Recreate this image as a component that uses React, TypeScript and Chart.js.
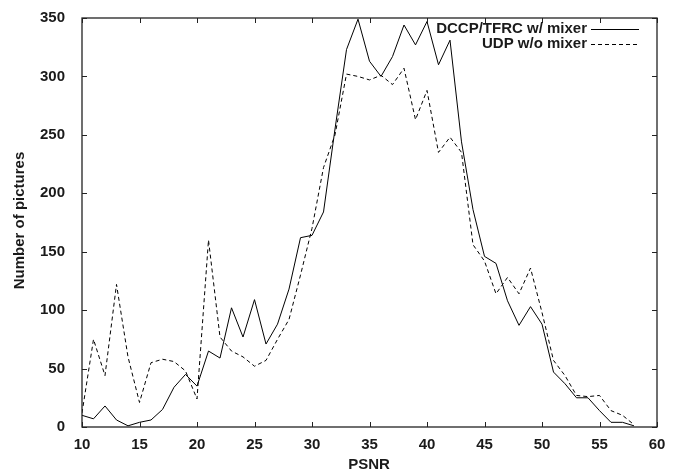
import React, { useEffect, useRef } from "react";
import { Chart, registerables } from "chart.js";

Chart.register(...registerables);

const psnr = [10, 11, 12, 13, 14, 15, 16, 17, 18, 19, 20, 21, 22, 23, 24, 25, 26, 27, 28, 29, 30, 31, 32, 33, 34, 35, 36, 37, 38, 39, 40, 41, 42, 43, 44, 45, 46, 47, 48, 49, 50, 51, 52, 53, 54, 55, 56, 57, 58];

const dccpMixer = [10, 7, 18, 6, 1, 4, 6, 15, 34, 45, 35, 65, 59, 102, 77, 109, 71, 88, 118, 162, 164, 184, 255, 323, 349, 313, 300, 317, 344, 327, 347, 310, 331, 244, 186, 146, 140, 108, 87, 103, 88, 47, 37, 25, 25, 14, 4, 4, 1];

const udpNoMixer = [12, 75, 44, 122, 60, 21, 55, 58, 56, 48, 24, 160, 77, 65, 60, 52, 57, 75, 92, 130, 170, 222, 250, 302, 300, 297, 301, 293, 307, 263, 288, 235, 248, 235, 156, 142, 114, 128, 114, 136, 98, 57, 44, 27, 26, 27, 14, 10, 2];

const seriesLabels = ["DCCP/TFRC w/ mixer", "UDP w/o mixer"];
const xTitle = "PSNR";
const yTitle = "Number of pictures";

const FONT = "'Liberation Sans', Arial, sans-serif";
const TEXT = "#1a1a1a";

const framePlugin = {
  id: "frame",
  afterDraw(chart: any) {
    const { ctx, chartArea } = chart;
    const { left, right, top, bottom } = chartArea;
    const xs = chart.scales.x;
    const ys = chart.scales.y;
    ctx.save();
    ctx.strokeStyle = "#222";
    ctx.lineWidth = 1.3;
    ctx.setLineDash([]);
    ctx.strokeRect(left, top, right - left, bottom - top);
    ctx.lineWidth = 1;
    const tl = 5;
    ctx.beginPath();
    xs.ticks.forEach((t: any) => {
      const px = Math.round(xs.getPixelForValue(t.value)) + 0.5;
      ctx.moveTo(px, bottom);
      ctx.lineTo(px, bottom - tl);
      ctx.moveTo(px, top);
      ctx.lineTo(px, top + tl);
    });
    ys.ticks.forEach((t: any) => {
      const py = Math.round(ys.getPixelForValue(t.value)) + 0.5;
      ctx.moveTo(left, py);
      ctx.lineTo(left + tl, py);
      ctx.moveTo(right, py);
      ctx.lineTo(right - tl, py);
    });
    ctx.stroke();

    // axis titles
    ctx.fillStyle = TEXT;
    ctx.font = `bold 15px ${FONT}`;
    ctx.textAlign = "center";
    ctx.textBaseline = "middle";
    ctx.fillText(xTitle, 369, 464.5);
    ctx.save();
    ctx.translate(20, 220.5);
    ctx.rotate(-Math.PI / 2);
    ctx.fillText(yTitle, 0, 0);
    ctx.restore();

    // legend
    ctx.font = `bold 15px ${FONT}`;
    ctx.textAlign = "right";
    const rows = [29, 43.8];
    chart.data.datasets.forEach((ds: any, i: number) => {
      const y = rows[i];
      ctx.fillStyle = TEXT;
      ctx.fillText(ds.label, 587, y);
      ctx.strokeStyle = ds.borderColor;
      ctx.lineWidth = ds.borderWidth;
      ctx.setLineDash(ds.borderDash || []);
      ctx.beginPath();
      ctx.moveTo(591, Math.round(y) + 0.5);
      ctx.lineTo(639, Math.round(y) + 0.5);
      ctx.stroke();
    });
    ctx.restore();
  },
};

export default function App() {
  const ref = useRef<HTMLCanvasElement | null>(null);

  useEffect(() => {
    document.body.style.margin = "0";
    const canvas = ref.current;
    if (!canvas) return;
    const chart = new Chart(canvas, {
      type: "line",
      data: {
        datasets: [
          {
            label: seriesLabels[0],
            data: psnr.map((x, i) => ({ x, y: dccpMixer[i] })),
            borderColor: "#000",
            borderWidth: 1,
            pointRadius: 0,
            fill: false,
            tension: 0,
          },
          {
            label: seriesLabels[1],
            data: psnr.map((x, i) => ({ x, y: udpNoMixer[i] })),
            borderColor: "#000",
            borderWidth: 1,
            borderDash: [4, 3],
            pointRadius: 0,
            fill: false,
            tension: 0,
          },
        ],
      },
      options: {
        responsive: false,
        animation: false,
        devicePixelRatio: 1,
        layout: { padding: { left: 0, top: 15, right: 24, bottom: 0 } },
        plugins: {
          legend: { display: false },
          tooltip: { enabled: false },
        },
        scales: {
          x: {
            type: "linear",
            min: 10,
            max: 60,
            grid: { display: false },
            border: { display: false },
            ticks: {
              stepSize: 5,
              padding: 1,
              color: TEXT,
              font: { family: FONT, weight: "bold", size: 15 },
            },
            afterFit(scale: any) {
              scale.height = 46;
            },
          },
          y: {
            type: "linear",
            min: 0,
            max: 350,
            grid: { display: false },
            border: { display: false },
            ticks: {
              stepSize: 50,
              padding: 9,
              color: TEXT,
              font: { family: FONT, weight: "bold", size: 15 },
            },
            afterFit(scale: any) {
              scale.width = 82;
            },
          },
        },
      },
      plugins: [framePlugin],
    });
    return () => chart.destroy();
  }, []);

  return (
    <div style={{ width: 681, height: 473 }}>
      <canvas ref={ref} width={681} height={473} style={{ display: "block" }} />
    </div>
  );
}
